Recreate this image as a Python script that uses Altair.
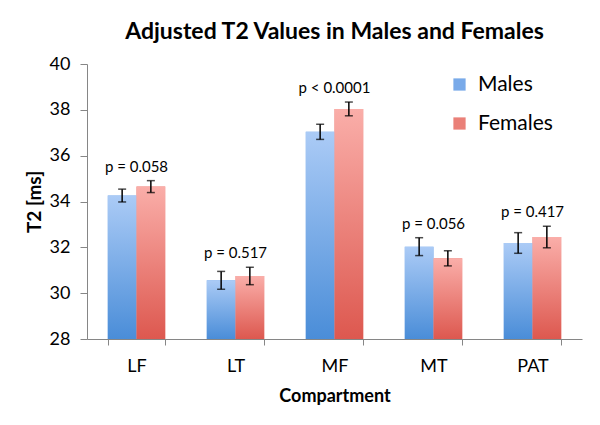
import altair as alt
import pandas as pd

categories = ["LF", "LT", "MF", "MT", "PAT"]
genders = ["Males", "Females"]
males = [34.26, 30.56, 37.04, 32.03, 32.19]
females = [34.65, 30.75, 38.04, 31.52, 32.45]
males_err = [0.28, 0.39, 0.33, 0.39, 0.45]
females_err = [0.26, 0.38, 0.30, 0.33, 0.47]
p_labels = ["p = 0.058", "p = 0.517", "p < 0.0001", "p = 0.056", "p = 0.417"]
y_ticks = [28, 30, 32, 34, 36, 38, 40]

rows = []
for i, c in enumerate(categories):
    rows.append({"compartment": c, "gender": "Males", "value": males[i],
                 "lo": males[i] - males_err[i], "hi": males[i] + males_err[i]})
    rows.append({"compartment": c, "gender": "Females", "value": females[i],
                 "lo": females[i] - females_err[i], "hi": females[i] + females_err[i]})
df = pd.DataFrame(rows)
pdf = pd.DataFrame({
    "compartment": categories,
    "p": p_labels,
    "top": [max(m + me, f + fe) for m, me, f, fe in zip(males, males_err, females, females_err)],
})

FONT = "Lato"
YT = "T2 [ms]"

xenc = alt.X("compartment:N", sort=categories,
             scale=alt.Scale(paddingInner=0.42, paddingOuter=0.21),
             axis=alt.Axis(title="Compartment", labelAngle=0, tickBand="extent",
                           tickSize=6, labelPadding=12, labelFontSize=18,
                           titleFontSize=18, titleFontWeight="bold", titlePadding=12))
xoff = alt.XOffset("gender:N", sort=genders,
                   scale=alt.Scale(domain=genders, paddingInner=0, paddingOuter=0))
yscale = alt.Scale(domain=[28, 40], zero=False, nice=False, clamp=True)
yaxis = alt.Axis(values=y_ticks, grid=False, tickSize=7, labelPadding=10,
                 labelFontSize=18, titleFontSize=19, titleFontWeight="bold",
                 titlePadding=5)

base = alt.Chart(df).encode(x=xenc, xOffset=xoff)

legend_bars = base.mark_bar().encode(
    y=alt.Y("value:Q", scale=yscale, axis=yaxis, title=YT),
    color=alt.Color("gender:N", sort=genders,
                    scale=alt.Scale(domain=genders, range=["#79aae9", "#ea8078"]),
                    legend=alt.Legend(title=None, orient="none", legendX=362, legendY=10,
                                      symbolType="square", symbolSize=150,
                                      symbolStrokeWidth=0, labelFontSize=21,
                                      labelFont=FONT, rowPadding=17, labelOffset=8,
                                      padding=0, labelColor="#000")),
)

def grad(top, bottom):
    return {"gradient": "linear", "x1": 0, "x2": 0, "y1": 0, "y2": 1,
            "stops": [{"offset": 0, "color": top}, {"offset": 1, "color": bottom}]}

male_bars = base.transform_filter(alt.datum.gender == "Males").mark_bar(
    color=grad("#abcbf6", "#4a8dd8")).encode(
    y=alt.Y("value:Q", scale=yscale, axis=yaxis, title=YT))
female_bars = base.transform_filter(alt.datum.gender == "Females").mark_bar(
    color=grad("#faaea9", "#dd584f")).encode(
    y=alt.Y("value:Q", scale=yscale, axis=yaxis, title=YT))

err_rule = base.mark_rule(color="#000", strokeWidth=1.5).encode(
    y=alt.Y("lo:Q", scale=yscale, axis=yaxis, title=YT), y2="hi:Q")
cap_lo = base.mark_tick(color="#000", size=8, thickness=1.5).encode(
    y=alt.Y("lo:Q", scale=yscale, axis=yaxis, title=YT))
cap_hi = base.mark_tick(color="#000", size=8, thickness=1.5).encode(
    y=alt.Y("hi:Q", scale=yscale, axis=yaxis, title=YT))

ptext = alt.Chart(pdf).mark_text(baseline="bottom", dy=-6, fontSize=15, font=FONT,
                                 color="#000").encode(
    x=alt.X("compartment:N", sort=categories),
    y=alt.Y("top:Q", scale=yscale, axis=yaxis, title=YT),
    text="p:N")

chart = alt.layer(legend_bars, male_bars, female_bars, err_rule, cap_lo, cap_hi, ptext).properties(
    width=495, height=275,
    title=alt.TitleParams("Adjusted T2 Values in Males and Females", fontSize=23,
                          fontWeight="bold", font=FONT, anchor="middle", frame="group",
                          offset=11, color="#000"),
    padding={"left": 79, "top": 56, "right": 8, "bottom": 70},
    autosize=alt.AutoSizeParams(type="none"),
).configure_view(stroke=None).configure_axis(
    domainColor="#868686", tickColor="#868686", labelColor="#000", titleColor="#000",
    labelFont=FONT, titleFont=FONT, domainWidth=1, tickWidth=1
)

chart.save("out.html", embed_options={"renderer": "svg", "actions": False})
